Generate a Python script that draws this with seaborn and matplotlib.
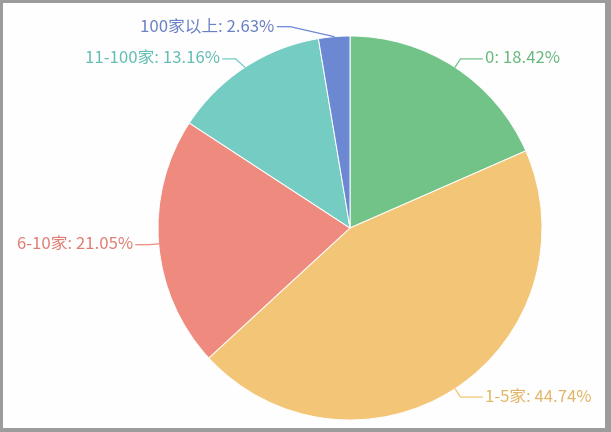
import numpy as np
import matplotlib
matplotlib.use("Agg")
import matplotlib.pyplot as plt
import seaborn as sns

categories = ["0", "1-5家", "6-10家", "11-100家", "100家以上"]
counts = [7, 17, 8, 5, 1]
percent_labels = ["18.42%", "44.74%", "21.05%", "13.16%", "2.63%"]
colors = ["#72c387", "#f3c576", "#ef8a7e", "#74ccc3", "#6c88d3"]
text_colors = ["#68b87d", "#e2b565", "#e07d72", "#62bdb4", "#6a80c4"]

sns.set_theme(style="white")
plt.rcParams["font.family"] = ["Noto Sans CJK SC", "DejaVu Sans"]

W, H = 611, 432
fig = plt.figure(figsize=(W / 100, H / 100), dpi=100, facecolor="#9c9c9c")
x0, x1, ytop, ybot = 3, 605, 3, 428
ax = fig.add_axes([x0 / W, (H - ybot) / H, (x1 - x0) / W, (ybot - ytop) / H])
ax.set_facecolor("#fefefe")

cx, cy, R = 350, H - 228, 192
palette = sns.color_palette(colors)
wedges, _ = ax.pie(counts, colors=palette, startangle=90, counterclock=False,
                   center=(cx, cy), radius=R,
                   wedgeprops=dict(edgecolor="white", linewidth=0.7))
ax.set_xlim(x0, x1)
ax.set_ylim(H - ybot, H - ytop)
ax.set_aspect("auto")
ax.set_frame_on(True)
ax.patch.set_visible(True)
for s in ax.spines.values():
    s.set_visible(False)
ax.set_xticks([])
ax.set_yticks([])

radial_len = 10
horiz_len = {1: 22, -1: 13}
elbow_dx = [0, 0, 0, -4, -43]
elbow_dy = [0, 0, 0, 0, 0]
for i, w in enumerate(wedges):
    ang = np.deg2rad((w.theta1 + w.theta2) / 2)
    ex, ey = cx + R * np.cos(ang), cy + R * np.sin(ang)
    bx = cx + (R + radial_len) * np.cos(ang) + elbow_dx[i]
    by = cy + (R + radial_len) * np.sin(ang) + elbow_dy[i]
    side = 1 if np.cos(ang) >= 0 else -1
    tx = bx + side * horiz_len[side]
    ax.plot([ex, bx, tx], [ey, by, by], color=colors[i], lw=0.9,
            solid_joinstyle="miter")
    ax.text(tx + side * 3, by, f"{categories[i]}: {percent_labels[i]}",
            color=text_colors[i], fontsize=12,
            ha="left" if side > 0 else "right", va="center")

fig.savefig("out.png", dpi=100, facecolor=fig.get_facecolor())
